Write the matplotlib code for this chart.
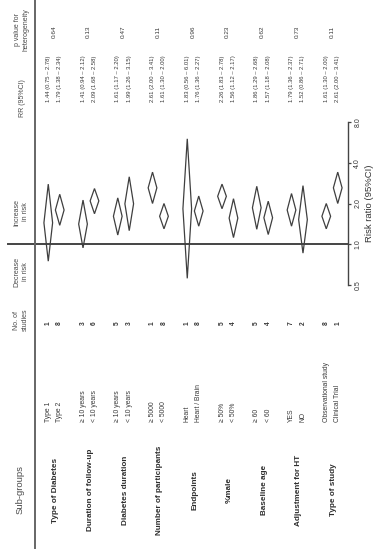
import matplotlib
matplotlib.use("Agg")
import matplotlib.pyplot as plt
from matplotlib.patches import Polygon
from matplotlib.lines import Line2D
from matplotlib.transforms import blended_transform_factory

plt.rcParams['font.family'] = ['Liberation Sans', 'DejaVu Sans']

# data
groups = ['Type of Diabetes', 'Duration of follow-up', 'Diabetes duration',
          'Number of participants', 'Endpoints', '%male', 'Baseline age',
          'Adjustment for HT', 'Type of study']
subgroups = [['Type 1', 'Type 2'], ['≥ 10 years', '< 10 years'],
             ['≥ 10 years', '< 10 years'], ['≥ 5000', '< 5000'],
             ['Heart', 'Heart / Brain'], ['≥ 50%', '< 50%'], ['≥ 60', '< 60'],
             ['YES', 'NO'], ['Observational study', 'Clinical Trial']]
n_studies = [[1, 8], [3, 6], [5, 3], [1, 8], [1, 8], [5, 4], [5, 4], [7, 2], [8, 1]]
rr = [[1.44, 1.79], [1.41, 2.09], [1.61, 1.99], [2.61, 1.61], [1.83, 1.76],
      [2.26, 1.56], [1.86, 1.57], [1.79, 1.52], [1.61, 2.61]]
lo = [[0.75, 1.38], [0.94, 1.68], [1.17, 1.26], [2.00, 1.30], [0.56, 1.36],
      [1.83, 1.12], [1.29, 1.18], [1.36, 0.86], [1.30, 2.00]]
hi = [[2.78, 2.34], [2.12, 2.58], [2.20, 3.15], [3.41, 2.00], [6.01, 2.27],
      [2.78, 2.17], [2.68, 2.08], [2.37, 2.71], [2.00, 3.41]]
p_het = ['0.64', '0.13', '0.47', '0.11', '0.96', '0.23', '0.62', '0.73', '0.11']
ticks = [0.5, 1.0, 2.0, 4.0, 8.0]

W, H = 380, 558
fig = plt.figure(figsize=(W / 100, H / 100), dpi=100)
fig.patch.set_facecolor('white')

def fy(py):
    return 1 - py / H

# plot area: rows run left->right, risk ratio runs bottom->top
ax = fig.add_axes([0, fy(285), 348 / W, (285 - 122) / H])
ax.set_yscale('log', base=2)
ax.set_ylim(0.5, 8)
g0, gstep = 54, 34.75
ax.set_xlim((0 - g0) / gstep, (348 - g0) / gstep)
ax.patch.set_alpha(0)

for s in ['left', 'top', 'bottom']:
    ax.spines[s].set_visible(False)
ax.spines['right'].set_color('#444444')
ax.spines['right'].set_linewidth(1.0)
ax.set_xticks([])
ax.yaxis.tick_right()
ax.set_yticks(ticks)
ax.set_yticklabels(['%.1f' % t for t in ticks], rotation=90, va='center')
ax.yaxis.set_minor_locator(matplotlib.ticker.NullLocator())
ax.tick_params(axis='y', length=2.5, width=0.9, color='#444444',
               labelsize=5, labelcolor='#333333', pad=2)
ax.yaxis.set_label_position('right')
ax.set_ylabel('Risk ratio (95%CI)', fontsize=6.8, color='#333333',
              rotation=90, labelpad=3)

ax.axhline(1.0, xmin=8 / 348, xmax=1, color='#444444', lw=1.4, zorder=1)

off = 0.165
hw = 0.125
tr = blended_transform_factory(ax.transData, fig.transFigure)
txt = '#383838'

for g in range(len(groups)):
    for k in range(2):
        x = g + (-off if k == 0 else off)
        r, a, b = rr[g][k], lo[g][k], hi[g][k]
        ax.add_patch(Polygon([(x, a), (x + hw, r), (x, b), (x - hw, r)],
                             closed=True, fill=False, edgecolor='#3f3f3f',
                             lw=0.9, zorder=2))
        ax.text(x, fy(79), '%.2f (%.2f \u2013 %.2f)' % (r, a, b), transform=tr,
                rotation=90, ha='center', va='center', fontsize=4.2, color=txt)
        ax.text(x, fy(323), str(n_studies[g][k]), transform=tr, rotation=90,
                ha='center', va='center', fontsize=4.8, color=txt,
                fontweight='bold')
        ax.text(x, fy(422), subgroups[g][k], transform=tr, rotation=90,
                rotation_mode='anchor', ha='left', va='center', fontsize=4.9,
                color=txt)
    ax.text(g, fy(32), p_het[g], transform=tr, rotation=90, ha='center',
            va='center', fontsize=4.6, color=txt)
    ax.text(g + 0.05, fy(490), groups[g], transform=tr, rotation=90,
            ha='center', va='center', fontsize=5.9, fontweight='bold',
            color='#2e2e2e')

# column headers
hdr = dict(rotation=90, ha='center', va='center', multialignment='center',
           fontsize=5, color='#4a4a4a', linespacing=1.3)
fig.text(22 / W, fy(30), 'p value for\nheterogeneity', **hdr)
fig.text(23 / W, fy(98), 'RR (95%CI)', **hdr)
fig.text(21 / W, fy(212), 'Increase\nin risk', **hdr)
fig.text(21 / W, fy(272), 'Decrease\nin risk', **hdr)
fig.text(21 / W, fy(320), 'No. of\nstudies', **hdr)
fig.text(20 / W, fy(490), 'Sub-groups', rotation=90, ha='center', va='center',
         fontsize=6.8, color='#4a4a4a')

fig.add_artist(Line2D([35 / W, 35 / W], [fy(0), fy(548)],
                      transform=fig.transFigure, color='#666666', lw=1.4))

fig.savefig('out.png', dpi=100)
